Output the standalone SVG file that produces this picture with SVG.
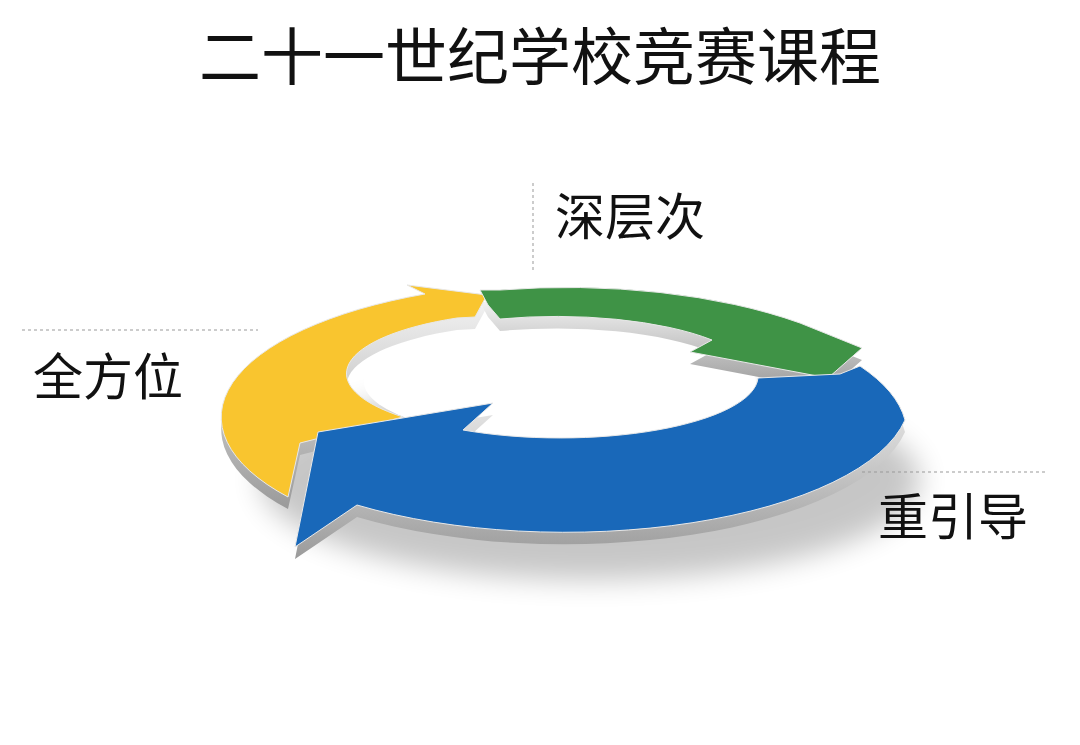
<svg xmlns="http://www.w3.org/2000/svg" width="1080" height="745" viewBox="0 0 1080 745">
<style>
text{font-family:"Noto Sans CJK SC","Noto Sans",sans-serif;fill:#111}
.lbl{font-size:50px}
.dash{stroke:#999;stroke-width:1;stroke-dasharray:3 3;fill:none}
.side{fill:url(#g)}
</style>
<defs>
<linearGradient id="g" x1="0" y1="0" x2="0" y2="1"><stop offset="0" stop-color="#f4f4f4"/><stop offset="1" stop-color="#9a9a9a"/></linearGradient>
<filter id="b" x="-20%" y="-50%" width="140%" height="200%"><feGaussianBlur stdDeviation="14"/></filter>
<path id="py" d="M407,285 L487,295 L475,317 L457,318 A198,62 0 0 0 403,417 L300,443 L288,497 A345,135 0 0 1 425,294 Z"/>
<path id="pg" d="M480,290 L500,290 A345,135 0 0 1 800,323 L862,348 L828,378 L690,352 L712,340 A198,62 0 0 0 500,319 L488,305 Z"/>
<path id="pb" d="M295,547 L357,505 A345,135 0 0 0 905,420 A345,135 0 0 0 860,366 L840,374 L758,378 A198,62 0 0 1 463,430 L493,403 L318,432 Z"/>
</defs>
<rect width="1080" height="745" fill="#fff"/>
<text x="540" y="80" font-size="62" text-anchor="middle">二十一世纪学校竞赛课程</text>
<ellipse cx="590" cy="480" rx="330" ry="100" fill="#000" opacity="0.22" filter="url(#b)"/>
<ellipse cx="560" cy="382" rx="196" ry="58" fill="#fff"/>
<g id="sides">
<use href="#py" class="side" transform="translate(0,12)"/>
<use href="#pg" class="side" transform="translate(0,12)"/>
<use href="#pb" class="side" transform="translate(0,12)"/>
</g>
<g id="yellow"><use href="#py" fill="#f9c52f" stroke="#e8e8e8" stroke-width="1"/></g>
<g id="green"><use href="#pg" fill="#3f9346" stroke="#e8e8e8" stroke-width="1"/></g>
<g id="blue"><use href="#pb" fill="#1968b9" stroke="#e8e8e8" stroke-width="1"/></g>
<g id="connectors">
<line class="dash" x1="533" y1="183" x2="533" y2="270"/>
<line class="dash" x1="22" y1="330" x2="258" y2="330"/>
<line class="dash" x1="862" y1="472" x2="1045" y2="472"/>
</g>
<g id="l1"><text class="lbl" x="555" y="235">深层次</text></g>
<g id="l2"><text class="lbl" x="33" y="395">全方位</text></g>
<g id="l3"><text class="lbl" x="878" y="535">重引导</text></g>
</svg>
